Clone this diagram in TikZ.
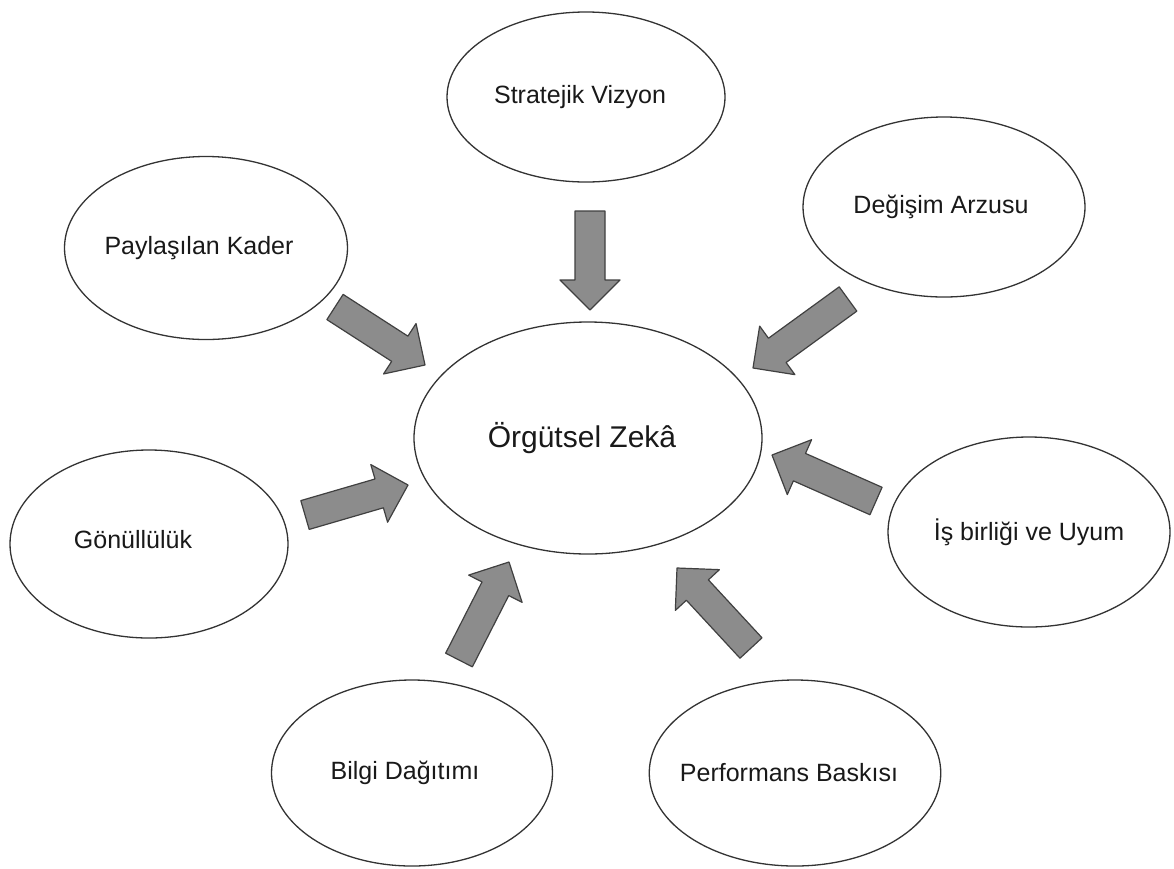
\documentclass[tikz,border=0pt]{standalone}
\usepackage{fontspec}
\setmainfont{Liberation Sans}
\usetikzlibrary{shapes.geometric,calc}
\tikzset{
  bubble/.style={ellipse, draw=black!80, line width=1.3pt, fill=white, inner sep=0pt,
    font=\fontsize{25}{29}\selectfont, text=black!90},
  blockarrow/.style={fill=black!45, draw=black!75, line width=1.2pt, line join=round},
}
% shift text: #1 = horizontal shift (twice the desired), #2 = vertical raise
\newcommand\shtext[3]{\raisebox{#2}{\hspace*{#1}#3}}
\newcommand\blockarrow[2]{%
  \coordinate (ba-h) at ($(#2)!30pt!(#1)$);
  \draw[blockarrow] ($(#1)!15pt!90:(#2)$) -- ($(ba-h)!15pt!90:(#2)$) -- ($(ba-h)!30pt!90:(#2)$)
    -- (#2) -- ($(ba-h)!30pt!-90:(#2)$) -- ($(ba-h)!15pt!-90:(#2)$) -- ($(#1)!15pt!-90:(#2)$) -- cycle;
}
\begin{document}
\begin{tikzpicture}[x=1pt,y=1pt]
\fill[white] (0,0) rectangle (1174,-868);
\useasboundingbox (0,0) rectangle (1174,-868);

\node[bubble, minimum width=348pt, minimum height=232pt, font=\fontsize{30}{34}\selectfont] (oz) at (588,-438) {\shtext{-12pt}{0pt}{Örgütsel Zekâ}};
\node[bubble, minimum width=278pt, minimum height=170pt] (sv) at (586,-97) {\shtext{-12pt}{0pt}{Stratejik Vizyon}};
\node[bubble, minimum width=282pt, minimum height=180pt] (da) at (944,-207) {\shtext{-6pt}{3pt}{Değişim Arzusu}};
\node[bubble, minimum width=283pt, minimum height=183pt] (pk) at (206,-248) {\shtext{-14pt}{2pt}{Paylaşılan Kader}};
\node[bubble, minimum width=278pt, minimum height=188pt] (gn) at (149,-544) {\shtext{-32pt}{9pt}{Gönüllülük}};
\node[bubble, minimum width=282pt, minimum height=190pt] (ib) at (1029,-532) {\shtext{0pt}{2pt}{İş birliği ve Uyum}};
\node[bubble, minimum width=281pt, minimum height=186pt] (bd) at (412,-773) {\shtext{-14pt}{-3pt}{Bilgi Dağıtımı}};
\node[bubble, minimum width=280pt, minimum height=186pt] (pb) at (795,-773) {\shtext{-12pt}{2pt}{Performans Baskısı}};

\coordinate (t1) at (590,-211); \coordinate (h1) at (590,-310);
\coordinate (t2) at (335,-307); \coordinate (h2) at (425,-365);
\coordinate (t3) at (848,-299); \coordinate (h3) at (753,-368);
\coordinate (t4) at (305,-515); \coordinate (h4) at (408,-485);
\coordinate (t5) at (876,-501); \coordinate (h5) at (772,-455);
\coordinate (t6) at (459,-660); \coordinate (h6) at (509,-562);
\coordinate (t7) at (751,-648); \coordinate (h7) at (677,-568);

\blockarrow{t1}{h1}
\blockarrow{t2}{h2}
\blockarrow{t3}{h3}
\blockarrow{t4}{h4}
\blockarrow{t5}{h5}
\blockarrow{t6}{h6}
\blockarrow{t7}{h7}
\end{tikzpicture}
\end{document}
